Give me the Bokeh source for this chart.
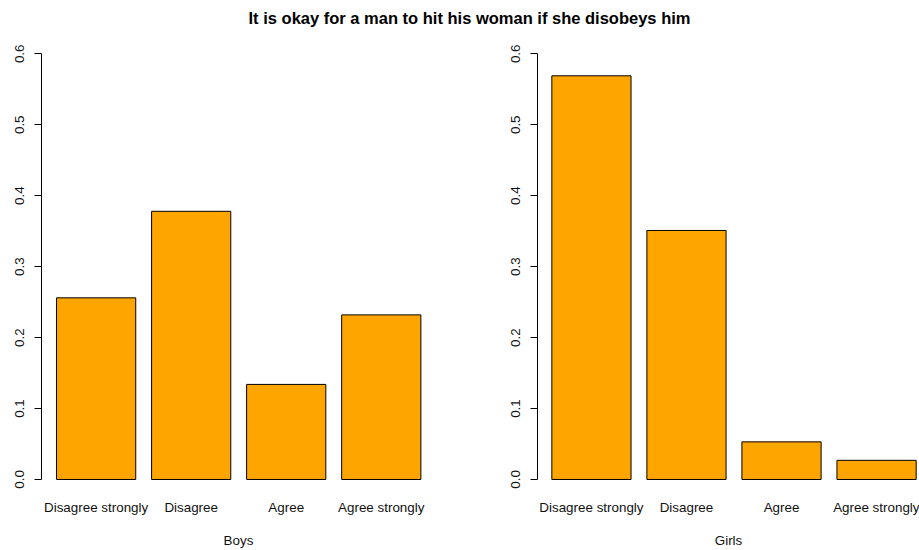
from bokeh.plotting import figure
from bokeh.models import Label, FixedTicker, PrintfTickFormatter, Range1d, ColumnDataSource
from bokeh.layouts import column, row
from bokeh.embed import file_html
from bokeh.resources import INLINE

# ---- data ----
title_text = "It is okay for a man to hit his woman if she disobeys him"
categories = ["Disagree strongly", "Disagree", "Agree", "Agree strongly"]
boys = [0.256, 0.378, 0.134, 0.232]
girls = [0.569, 0.351, 0.053, 0.027]
panel_labels = ["Boys", "Girls"]
y_ticks = [0.0, 0.1, 0.2, 0.3, 0.4, 0.5, 0.6]

FONT = "Liberation Sans"
BAR_W, SPACE = 1.0, 0.2   # like R barplot defaults
centers = [SPACE + i * (BAR_W + SPACE) + BAR_W / 2 for i in range(len(categories))]


def panel(values, label, width, bl, br, x_start, x_end):
    p = figure(width=width, height=516, output_backend="svg", toolbar_location=None,
               x_range=Range1d(x_start, x_end),
               y_range=Range1d(-0.024, 0.6244),
               min_border_left=bl, min_border_right=br, min_border_top=2, min_border_bottom=53)
    src = ColumnDataSource(dict(x=centers, top=values))
    p.vbar(x="x", top="top", bottom=0, width=BAR_W, source=src,
           fill_color="#FFA500", line_color="black", line_width=1)
    p.xgrid.visible = False
    p.ygrid.visible = False
    p.outline_line_color = None
    p.background_fill_color = "white"
    p.border_fill_color = "white"

    ya = p.yaxis[0]
    ya.ticker = FixedTicker(ticks=y_ticks)
    ya.formatter = PrintfTickFormatter(format="%.1f")
    ya.bounds = (0, 0.6)
    ya.major_label_orientation = "vertical"
    ya.major_tick_out = 7
    ya.major_tick_in = 0
    ya.minor_tick_line_color = None
    ya.axis_line_color = "black"
    ya.major_tick_line_color = "black"
    ya.major_label_text_font = FONT
    ya.major_label_text_font_size = "13.4px"
    ya.major_label_text_color = "#111111"
    ya.major_label_standoff = 10

    xa = p.xaxis[0]
    xa.ticker = FixedTicker(ticks=centers)
    xa.major_label_overrides = {c: t for c, t in zip(centers, categories)}
    xa.axis_line_color = None
    xa.major_tick_line_color = None
    xa.minor_tick_line_color = None
    xa.major_tick_out = 0
    xa.major_label_standoff = 3
    xa.major_label_text_font = FONT
    xa.major_label_text_font_size = "13.4px"
    xa.major_label_text_color = "#111111"
    xa.axis_label = label
    xa.axis_label_standoff = 15
    xa.axis_label_text_font = FONT
    xa.axis_label_text_font_size = "13.4px"
    xa.axis_label_text_font_style = "normal"
    xa.axis_label_text_color = "#111111"
    return p


PX = 79.2  # pixels per bar-unit, used only to align frame edges
p1 = panel(boys, panel_labels[0], 475, 41, 40, (41 - 40.2) / PX, (435 - 40.2) / PX)
p2 = panel(girls, panel_labels[1], 444, 62, 0, (537 - 535.5) / PX, (919 - 535.5) / PX)

t = figure(width=919, height=34, output_backend="svg", toolbar_location=None,
           x_range=Range1d(0, 919), y_range=Range1d(0, 34),
           x_axis_location=None, y_axis_location=None, min_border=0)
t.xgrid.visible = False
t.ygrid.visible = False
t.outline_line_color = None
t.add_layout(Label(x=469, y=16.5, text=title_text, text_align="center",
                   text_baseline="alphabetic", text_font=FONT, text_font_size="16.5px",
                   text_font_style="bold", text_color="black"))

layout = column(t, row(p1, p2))
open("out.html", "w").write(file_html(layout, INLINE))
